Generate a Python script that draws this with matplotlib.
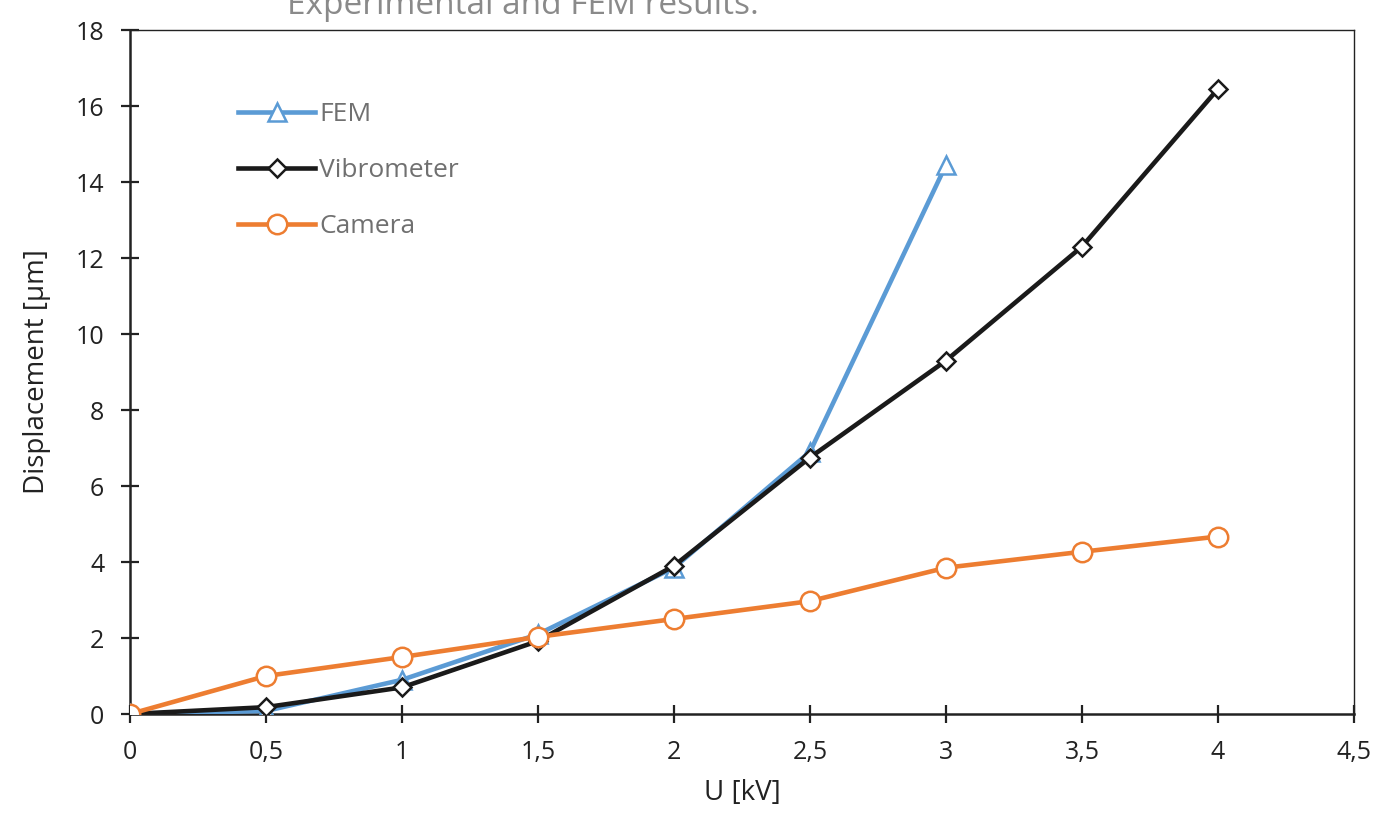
import matplotlib
matplotlib.use("Agg")
import matplotlib.pyplot as plt

voltage_fem = [0, 0.5, 1, 1.5, 2, 2.5, 3]
fem = [0.0, 0.08, 0.9, 2.1, 3.85, 6.9, 14.45]
voltage_exp = [0, 0.5, 1, 1.5, 2, 2.5, 3, 3.5, 4]
vibrometer = [0.0, 0.18, 0.7, 1.92, 3.9, 6.75, 9.3, 12.3, 16.45]
camera = [0.0, 1.0, 1.5, 2.03, 2.5, 2.97, 3.85, 4.27, 4.67]
xticks = [0, 0.5, 1, 1.5, 2, 2.5, 3, 3.5, 4, 4.5]
xtick_labels = ["0", "0,5", "1", "1,5", "2", "2,5", "3", "3,5", "4", "4,5"]
yticks = [0, 2, 4, 6, 8, 10, 12, 14, 16, 18]

plt.rcParams['font.family'] = ['Open Sans', 'DejaVu Sans']

W, H = 1391, 818
fig = plt.figure(figsize=(W / 100, H / 100), dpi=100)
ax = fig.add_axes([130 / W, (H - 714) / H, (1354 - 130) / W, (714 - 30) / H])

blue = '#5B9BD5'
orange = '#ED7D31'
black = '#1a1a1a'

ax.plot(voltage_fem, fem, color=blue, lw=3.3, marker='^', markersize=13,
        markerfacecolor='white', markeredgecolor=blue, markeredgewidth=1.8,
        label='FEM', zorder=3)
ax.plot(voltage_exp, vibrometer, color=black, lw=3.3, marker='D', markersize=9.5,
        markerfacecolor='white', markeredgecolor=black, markeredgewidth=1.8,
        label='Vibrometer', zorder=4)
ax.plot(voltage_exp, camera, color=orange, lw=3.3, marker='o', markersize=14,
        markerfacecolor='white', markeredgecolor=orange, markeredgewidth=1.8,
        label='Camera', zorder=5)

ax.set_xlim(0, 4.5)
ax.set_ylim(0, 18)
ax.set_xticks(xticks)
ax.set_xticklabels(xtick_labels)
ax.set_yticks(yticks)
ax.tick_params(axis='both', direction='inout', length=13, width=1.6,
               labelsize=18, colors='#222222')
ax.tick_params(axis='x', pad=12)
ax.tick_params(axis='y', pad=12)
for s in ['left', 'bottom']:
    ax.spines[s].set_linewidth(1.8)
    ax.spines[s].set_color('#222222')
for s in ['top', 'right']:
    ax.spines[s].set_linewidth(1.0)
    ax.spines[s].set_color('#222222')

ax.set_xlabel('U [kV]', fontsize=20, color='#222222', labelpad=10)
ax.set_ylabel('Displacement [µm]', fontsize=20, color='#222222', labelpad=18)

leg = ax.legend(loc='upper left', bbox_to_anchor=(0.08, 0.91), frameon=False,
                fontsize=19, handlelength=2.9, labelspacing=1.17, handletextpad=0.15,
                borderaxespad=0)
for t in leg.get_texts():
    t.set_color('#707070')

fig.text(523 / W, (H - 14) / H, 'Experimental and FEM results.', fontsize=24,
         color='#8a8a8a', ha='center', va='baseline')

fig.savefig('out.png', dpi=100)
